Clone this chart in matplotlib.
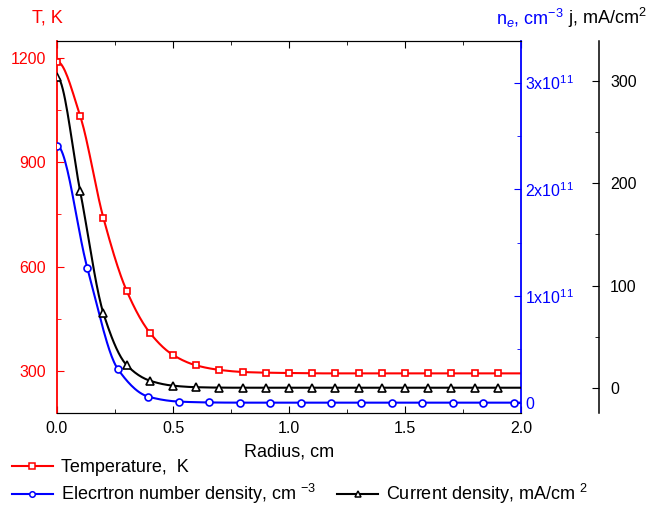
import numpy as np
import matplotlib
matplotlib.use('Agg')
import matplotlib.pyplot as plt
import matplotlib.ticker as mticker
from matplotlib.lines import Line2D

plt.rcParams.update({
    'font.family': ['Liberation Sans', 'DejaVu Sans'],
    'font.size': 11,
    'mathtext.fontset': 'custom',
    'mathtext.rm': 'Liberation Sans',
    'mathtext.it': 'Liberation Sans:italic',
})

# ── Data ──
r_temp = [0.0, 0.1, 0.2, 0.3, 0.4, 0.5, 0.6, 0.7, 0.8, 0.9, 1.0,
          1.1, 1.2, 1.3, 1.4, 1.5, 1.6, 1.7, 1.8, 1.9]
temp = [1190, 1033, 740, 531, 410, 346, 316, 303, 297, 295, 294,
        293, 293, 293, 293, 293, 293, 293, 293, 293]

r_ne = [0.0, 0.131, 0.262, 0.394, 0.525, 0.656, 0.787, 0.919, 1.05,
        1.181, 1.312, 1.444, 1.575, 1.706, 1.837, 1.969]
ne = [2.41e11, 1.26e11, 0.316e11, 0.056e11, 0.01e11, 0.002e11, 0.0, 0.0,
      0.0, 0.0, 0.0, 0.0, 0.0, 0.0, 0.0, 0.0]

r_j = [0.0, 0.1, 0.2, 0.3, 0.4, 0.5, 0.6, 0.7, 0.8, 0.9, 1.0,
       1.1, 1.2, 1.3, 1.4, 1.5, 1.6, 1.7, 1.8, 1.9]
cur = [304, 192, 73, 22.5, 7.2, 2.3, 0.8, 0.4, 0.3, 0.3, 0.3,
       0.3, 0.3, 0.3, 0.3, 0.3, 0.3, 0.3, 0.3, 0.3]

ne_ticks = [0, 1e11, 2e11, 3e11]
ne_labels = ['0', r'1x10$^{11}$', r'2x10$^{11}$', r'3x10$^{11}$']

RED = '#ff0000'
BLUE = '#0000ff'


def pchip(x, y, xs):
    # monotone cubic curve through the measured points (for drawing only)
    x = np.asarray(x, float); y = np.asarray(y, float)
    h = np.diff(x); d = np.diff(y) / h
    m = np.zeros_like(y)
    for k in range(1, len(x) - 1):
        if d[k - 1] * d[k] > 0:
            w1 = 2 * h[k] + h[k - 1]; w2 = h[k] + 2 * h[k - 1]
            m[k] = (w1 + w2) / (w1 / d[k - 1] + w2 / d[k])
    m[0] = 0.0
    m[-1] = d[-1]
    idx = np.clip(np.searchsorted(x, xs) - 1, 0, len(x) - 2)
    t = (xs - x[idx]) / h[idx]
    h00 = 2 * t**3 - 3 * t**2 + 1; h10 = t**3 - 2 * t**2 + t
    h01 = -2 * t**3 + 3 * t**2; h11 = t**3 - t**2
    return h00 * y[idx] + h10 * h[idx] * m[idx] + h01 * y[idx + 1] + h11 * h[idx] * m[idx + 1]


fig = plt.figure(figsize=(6.69, 5.08), dpi=100)
ax = fig.add_axes([0.0852, 0.187, 0.6936, 0.7323])
ax2 = ax.twinx()
ax3 = ax.twinx()
ax3.spines['right'].set_position(('axes', 1.168))
for s in ['top', 'bottom', 'left']:
    ax3.spines[s].set_visible(False)

xs = np.linspace(0, 2.0, 400)
mk = dict(ms=5, mfc='white', mew=1.2, ls='none', zorder=4)

# Temperature
xt = xs[xs <= r_temp[-1]]
ax.plot(np.r_[xt, 2.0], np.r_[pchip(r_temp, temp, xt), temp[-1]], color=RED, lw=1.5, zorder=3)
ax.plot(r_temp, temp, marker='s', mec=RED, **mk)

# Electron density
xn = xs[xs <= r_ne[-1]]
ax2.plot(np.r_[xn, 2.0], np.r_[pchip(r_ne, ne, xn), ne[-1]], color=BLUE, lw=1.5, zorder=3)
ax2.plot(r_ne, ne, marker='o', mec=BLUE, **mk)

# Current density
xj = xs[xs <= r_j[-1]]
ax3.plot(np.r_[xj, 2.0], np.r_[pchip(r_j, cur, xj), cur[-1]], color='black', lw=1.5, zorder=3)
ax3.plot(r_j, cur, marker='^', mec='black', **{**mk, 'ms': 6})

# Axes limits and ticks
ax.set_xlim(0, 2.0)
ax.set_ylim(179, 1249)
ax2.set_ylim(-0.097e11, 3.39e11)
ax3.set_ylim(-24.4, 339)

TS = 11.5
ax.xaxis.set_major_locator(mticker.MultipleLocator(0.5))
ax.xaxis.set_minor_locator(mticker.MultipleLocator(0.25))
ax.xaxis.set_major_formatter(mticker.FormatStrFormatter('%.1f'))
ax.yaxis.set_major_locator(mticker.MultipleLocator(300))
ax.yaxis.set_minor_locator(mticker.MultipleLocator(150))
ax.tick_params(axis='x', which='both', direction='in', top=True, labelsize=TS, pad=6)
ax.tick_params(axis='x', which='major', length=5)
ax.tick_params(axis='x', which='minor', length=3)
ax.tick_params(axis='y', which='both', direction='in', colors=RED, labelsize=TS, length=5, pad=8)
ax.tick_params(axis='y', which='minor', length=3)
ax.spines['left'].set_color(RED)
ax.spines['left'].set_linewidth(1.3)
ax.spines['right'].set_visible(False)

ax2.yaxis.set_major_locator(mticker.FixedLocator(ne_ticks))
ax2.yaxis.set_minor_locator(mticker.MultipleLocator(0.5e11))
ax2.yaxis.set_major_formatter(mticker.FixedFormatter(ne_labels))
ax2.tick_params(axis='y', which='both', direction='in', colors=BLUE, labelsize=TS, length=5, pad=3)
ax2.tick_params(axis='y', which='minor', length=3)
ax2.spines['right'].set_color(BLUE)
ax2.spines['right'].set_linewidth(1.3)
ax2.spines['left'].set_visible(False)

ax3.yaxis.set_major_locator(mticker.MultipleLocator(100))
ax3.yaxis.set_minor_locator(mticker.MultipleLocator(50))
ax3.tick_params(axis='y', which='both', direction='in', labelsize=TS, length=5, pad=8)
ax3.tick_params(axis='y', which='minor', length=3)
ax3.spines['right'].set_linewidth(1.1)

ax.set_xlabel('Radius, cm', fontsize=13, labelpad=5)

fig.text(32 / 669, 1 - 18 / 508, 'T, K', color=RED, fontsize=13, va='center', ha='left')
fig.text(496 / 669, 1 - 18 / 508, r'n$_e$, cm$^{-3}$', color=BLUE, fontsize=13, va='center', ha='left')
fig.text(568 / 669, 1 - 18 / 508, r'j, mA/cm$^2$', color='black', fontsize=13, va='center', ha='left')

# Legend
lg = dict(lw=1.5, ms=4, mfc='white', mew=1.1)
h_t = Line2D([], [], color=RED, marker='s', mec=RED, **lg)
h_n = Line2D([], [], color=BLUE, marker='o', mec=BLUE, **lg)
h_j = Line2D([], [], color='black', marker='^', mec='black', **lg)
h_blank = Line2D([], [], color='none')
fig.legend([h_t, h_n, h_blank, h_j],
           ['Temperature,  K', r'Elecrtron number density, cm $^{-3}$', '', r'Current density, mA/cm $^{2}$'],
           ncol=2, loc='upper left', bbox_to_anchor=(12 / 669, 1 - 459 / 508), frameon=False,
           fontsize=13, handlelength=2.27, handletextpad=0.42, columnspacing=1.2,
           labelspacing=0.35, borderaxespad=0, borderpad=0)

fig.savefig('out.png', dpi=100)
